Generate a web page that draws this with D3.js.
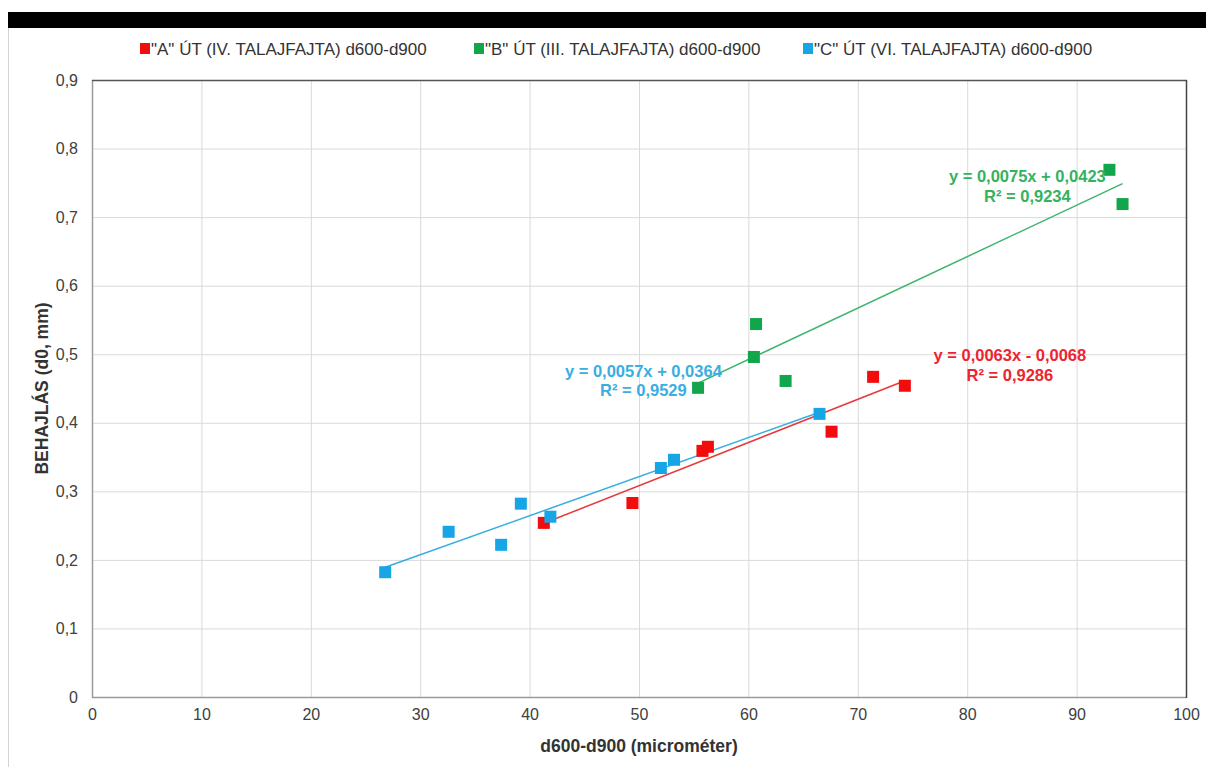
<!DOCTYPE html>
<html>
<head>
<meta charset="utf-8">
<script src="https://cdn.jsdelivr.net/npm/d3@7"></script>
<style>
  body { margin: 0; background: #fff; }
  svg { display: block; font-family: "Liberation Sans", Arial, sans-serif; }
</style>
</head>
<body>
<div id="chart"></div>
<script>
// series data (x = d600-d900, y = d0)
const seriesNames = ['"A" ÚT (IV. TALAJFAJTA) d600-d900', '"B" ÚT (III. TALAJFAJTA) d600-d900', '"C" ÚT (VI. TALAJFAJTA) d600-d900'];
const seriesColors = ['#f20c0c', '#11a54c', '#16a6e6'];
const lineColors = ['#e8383a', '#3cb46e', '#35ade0'];
const labelColors = ['#ee2430', '#35b25e', '#3aaee0'];

const aX = [41.3, 49.4, 55.8, 56.3, 67.6, 71.4, 74.3];
const aY = [0.254, 0.283, 0.359, 0.365, 0.387, 0.467, 0.454];
const bX = [55.4, 60.5, 60.7, 63.4, 93.0, 94.2];
const bY = [0.451, 0.496, 0.544, 0.461, 0.769, 0.719];
const cX = [26.8, 32.6, 37.4, 39.2, 41.9, 52.0, 53.2, 66.5];
const cY = [0.182, 0.241, 0.222, 0.282, 0.263, 0.334, 0.346, 0.413];

// linear trendlines (slope, intercept) and their labels
const slopes = [0.0063, 0.0075, 0.0057];
const intercepts = [-0.0068, 0.0423, 0.0364];
const eqLabels = ['y = 0,0063x - 0,0068', 'y = 0,0075x + 0,0423', 'y = 0,0057x + 0,0364'];
const r2Labels = ['R² = 0,9286', 'R² = 0,9234', 'R² = 0,9529'];
const labelAt = [[83.9, 0.490], [85.5, 0.751], [50.4, 0.467]]; // data coords of label centre (first baseline)

const xTicks = [0, 10, 20, 30, 40, 50, 60, 70, 80, 90, 100];
const yTicks = [0, 0.1, 0.2, 0.3, 0.4, 0.5, 0.6, 0.7, 0.8, 0.9];
const xTitle = 'd600-d900  (microméter)';
const yTitle = 'BEHAJLÁS  (d0, mm)';

const W = 1206, H = 767;
const margin = {top: 80, right: 20, bottom: 70, left: 92};

const svg = d3.select('#chart').append('svg')
    .attr('width', W)
    .attr('height', H);

// black strip and frame line
svg.append('rect').attr('x', 8).attr('y', 12).attr('width', W - 8).attr('height', 16).attr('fill', '#000');
svg.append('line').attr('x1', 8.5).attr('x2', 8.5).attr('y1', 28).attr('y2', H).attr('stroke', '#d4d4d4');

let x = d3.scaleLinear().domain([0, 100]).range([margin.left, 1186]);
let y = d3.scaleLinear().domain([0, 0.9]).range([697, margin.top]);

// grid
svg.append('g').selectAll('line').data(xTicks).enter().append('line')
    .attr('x1', d => x(d) + 0.5).attr('x2', d => x(d) + 0.5)
    .attr('y1', y(0.9)).attr('y2', y(0))
    .attr('stroke', '#dadada');
svg.append('g').selectAll('line').data(yTicks).enter().append('line')
    .attr('x1', x(0)).attr('x2', x(100))
    .attr('y1', d => y(d) + 0.5).attr('y2', d => y(d) + 0.5)
    .attr('stroke', '#dadada');

// axes (labels only)
let fmt = d => String(d).replace('.', ',');
let xAxis = svg.append('g')
    .attr('transform', 'translate(0,' + y(0) + ')')
    .call(d3.axisBottom(x).tickValues(xTicks).tickSize(0).tickPadding(12).tickFormat(fmt));
let yAxis = svg.append('g')
    .attr('transform', 'translate(' + x(0) + ',0)')
    .call(d3.axisLeft(y).tickValues(yTicks).tickSize(0).tickPadding(14).tickFormat(fmt));
[xAxis, yAxis].forEach(g => {
    g.select('.domain').remove();
    g.selectAll('text').attr('font-size', 16).attr('fill', '#404040')
        .attr('font-family', '"Liberation Sans", Arial, sans-serif');
});

// plot border: lighter left/bottom, darker top/right
svg.append('line').attr('x1', x(0) + 0.5).attr('x2', x(0) + 0.5).attr('y1', y(0.9)).attr('y2', y(0) + 1).attr('stroke', '#9a9a9a').attr('stroke-width', 1.5);
svg.append('line').attr('x1', x(0)).attr('x2', x(100)).attr('y1', y(0) + 0.5).attr('y2', y(0) + 0.5).attr('stroke', '#9a9a9a').attr('stroke-width', 1.5);
svg.append('line').attr('x1', x(0)).attr('x2', x(100) + 1).attr('y1', y(0.9) + 0.5).attr('y2', y(0.9) + 0.5).attr('stroke', '#555').attr('stroke-width', 1.5);
svg.append('line').attr('x1', x(100) + 0.5).attr('x2', x(100) + 0.5).attr('y1', y(0.9)).attr('y2', y(0) + 1).attr('stroke', '#444').attr('stroke-width', 1.5);

// trendlines
const xs = [aX, bX, cX], ys = [aY, bY, cY];
const drawOrder = [1, 0, 2];
drawOrder.forEach(i => {
    let ext = d3.extent(xs[i]);
    svg.append('line')
        .attr('x1', x(ext[0])).attr('y1', y(slopes[i] * ext[0] + intercepts[i]))
        .attr('x2', x(ext[1])).attr('y2', y(slopes[i] * ext[1] + intercepts[i]))
        .attr('stroke', lineColors[i]).attr('stroke-width', 1.5);
});

// markers
const ms = 12;
drawOrder.forEach(i => {
    svg.append('g').selectAll('rect')
        .data(d3.zip(xs[i], ys[i]))
        .enter()
        .append('rect')
        .attr('x', d => x(d[0]) - ms / 2)
        .attr('y', d => y(d[1]) - ms / 2)
        .attr('width', ms).attr('height', ms)
        .attr('fill', seriesColors[i]);
});

// equation labels
[0, 1, 2].forEach(i => {
    let g = svg.append('g').attr('font-size', 16.5).attr('font-weight', 'bold')
        .attr('fill', labelColors[i]).attr('text-anchor', 'middle');
    g.append('text').attr('x', x(labelAt[i][0])).attr('y', y(labelAt[i][1])).text(eqLabels[i]);
    g.append('text').attr('x', x(labelAt[i][0])).attr('y', y(labelAt[i][1]) + 19.5).text(r2Labels[i]);
});

// legend
const legendX = [140, 474, 803];
seriesNames.forEach((name, i) => {
    svg.append('rect').attr('x', legendX[i]).attr('y', 43).attr('width', 10).attr('height', 11)
        .attr('fill', seriesColors[i]);
    svg.append('text').attr('x', legendX[i] + 11).attr('y', 54.5)
        .attr('font-size', 17).attr('fill', '#333').text(name);
});

// axis titles
svg.append('text').attr('x', (x(0) + x(100)) / 2).attr('y', 752)
    .attr('text-anchor', 'middle').attr('font-size', 17.5).attr('font-weight', 'bold')
    .attr('fill', '#333').text(xTitle);
svg.append('text')
    .attr('transform', 'translate(48,' + (y(0) + y(0.9)) / 2 + ') rotate(-90)')
    .attr('text-anchor', 'middle').attr('font-size', 17.5).attr('font-weight', 'bold')
    .attr('fill', '#333').text(yTitle);
</script>
</body>
</html>
